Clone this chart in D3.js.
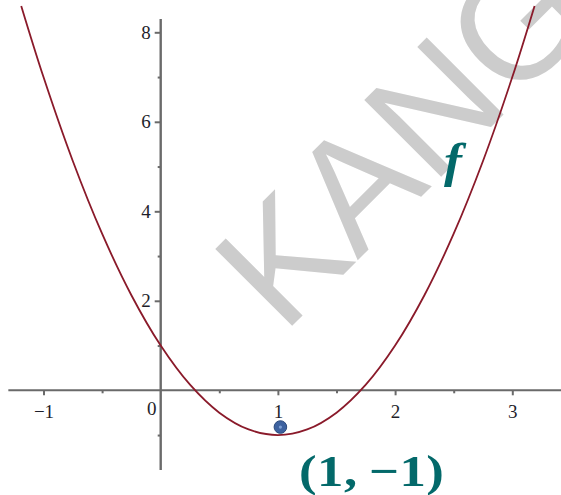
<!DOCTYPE html>
<html>
<head>
<meta charset="utf-8">
<script src="https://cdn.jsdelivr.net/npm/d3@7"></script>
<style>
  html, body { margin: 0; padding: 0; background: #ffffff; }
  svg { display: block; }
</style>
</head>
<body>
<svg id="chart" width="561" height="495"></svg>
<script>
const curveX = [-1.19, -1, -0.75, -0.5, -0.25, 0, 0.25, 0.5, 0.75, 1, 1.25, 1.5, 1.75, 2, 2.25, 2.5, 2.75, 3, 3.19];
const curveY = [8.59, 7, 5.125, 3.5, 2.125, 1, 0.125, -0.5, -0.875, -1, -0.875, -0.5, 0.125, 1, 2.125, 3.5, 5.125, 7, 8.59];

// Marked vertex
const vertex = { x: 1, y: -1, label: "(1,\u2009\u22121)" };
const curveName = "f";

// Axis ticks
const xMajorTicks = [-1, 1, 2, 3];
const xMinorTicks = [-0.5, 0.5, 1.5, 2.5];
const yMajorTicks = [2, 4, 6, 8];
const yMinorTicks = [-1, 1, 3, 5, 7];
const originLabel = "0";
const watermark = "KANG";

// Visible extent of the axes
const xView = [-1.3, 3.42];
const yView = [-1.78, 8.3];

const svg = d3.select("#chart");

const x = d3.scaleLinear().domain([-1, 3]).range([43.5, 512.3]);
const y = d3.scaleLinear().domain([0, 8]).range([390.3, 32.3]);

const fmt = d => (d < 0 ? "\u2212" + Math.abs(d) : String(d));

// Watermark behind everything
svg.append("text")
  .attr("transform", "translate(283,335) rotate(-45)")
  .attr("font-family", "'Liberation Sans', Arial, sans-serif")
  .attr("font-size", 158)
  .attr("fill", "#cccccc")
  .text(watermark);

const axisColor = "#6a6a6a";
const labelFont = "'Liberation Serif', 'Times New Roman', serif";

// Axis lines
svg.append("line")
  .attr("x1", x(xView[0])).attr("x2", x(xView[1]))
  .attr("y1", y(0)).attr("y2", y(0))
  .attr("stroke", axisColor).attr("stroke-width", 2);
svg.append("line")
  .attr("x1", x(0)).attr("x2", x(0))
  .attr("y1", y(yView[1])).attr("y2", y(yView[0]))
  .attr("stroke", axisColor).attr("stroke-width", 2.4);

// X axis ticks and labels
const xAxis = d3.axisBottom(x).tickValues(xMajorTicks).tickSize(5).tickPadding(9).tickFormat(fmt);
const gx = svg.append("g").attr("transform", `translate(0,${y(0)})`).call(xAxis);
gx.select(".domain").remove();
gx.selectAll(".tick line").attr("stroke", axisColor).attr("stroke-width", 2);
gx.selectAll(".tick text")
  .attr("font-family", labelFont).attr("font-size", 19).attr("fill", "#1e1e2a");

const xAxisMinor = d3.axisBottom(x).tickValues(xMinorTicks).tickSize(3).tickFormat("");
const gxm = svg.append("g").attr("transform", `translate(0,${y(0)})`).call(xAxisMinor);
gxm.select(".domain").remove();
gxm.selectAll(".tick line").attr("stroke", axisColor).attr("stroke-width", 2);

// Y axis ticks and labels
const yAxis = d3.axisLeft(y).tickValues(yMajorTicks).tickSize(6).tickPadding(4).tickFormat(fmt);
const gy = svg.append("g").attr("transform", `translate(${x(0)},0)`).call(yAxis);
gy.select(".domain").remove();
gy.selectAll(".tick line").attr("stroke", axisColor).attr("stroke-width", 2);
gy.selectAll(".tick text")
  .attr("font-family", labelFont).attr("font-size", 19).attr("fill", "#1e1e2a");

const yAxisMinor = d3.axisLeft(y).tickValues(yMinorTicks).tickSize(3).tickFormat("");
const gym = svg.append("g").attr("transform", `translate(${x(0)},0)`).call(yAxisMinor);
gym.select(".domain").remove();
gym.selectAll(".tick line").attr("stroke", axisColor).attr("stroke-width", 2);

// Origin label sits left of the vertical axis
svg.append("text")
  .attr("x", x(0) - 9).attr("y", y(0) + 25)
  .attr("text-anchor", "middle")
  .attr("font-family", labelFont).attr("font-size", 19).attr("fill", "#1e1e2a")
  .text(originLabel);

// The curve
const pts = curveX.map((v, i) => [v, curveY[i]]);
const line = d3.line()
  .x(d => x(d[0]))
  .y(d => y(d[1]))
  .curve(d3.curveCatmullRom.alpha(0.5));
svg.append("path")
  .attr("d", line(pts))
  .attr("fill", "none")
  .attr("stroke", "#8a1a2a")
  .attr("stroke-width", 1.8);

// Vertex marker
const vg = svg.append("g").attr("transform", `translate(${x(vertex.x) + 2.5},${y(vertex.y) - 8})`);
vg.append("circle").attr("r", 6.3).attr("fill", "#3d62a0").attr("stroke", "#2b4a7c").attr("stroke-width", 1);
vg.append("circle").attr("r", 1.6).attr("fill", "#7c9fd4");

// Vertex label, a wide bold math-style face
const labelScale = 1.2;
svg.append("g")
  .attr("transform", `translate(${x(vertex.x) + 21},${y(vertex.y) + 51}) scale(${labelScale},1)`)
  .append("text")
  .attr("font-family", labelFont)
  .attr("font-weight", "bold")
  .attr("font-size", 44)
  .attr("fill", "#03696a")
  .attr("textLength", 145 / labelScale)
  .attr("lengthAdjust", "spacing")
  .text(vertex.label);

// Curve name
svg.append("g")
  .attr("transform", "translate(444,177) scale(1.12,1)")
  .append("text")
  .attr("font-family", labelFont)
  .attr("font-weight", "bold")
  .attr("font-style", "italic")
  .attr("font-size", 48)
  .attr("fill", "#03696a")
  .text(curveName);
</script>
</body>
</html>
